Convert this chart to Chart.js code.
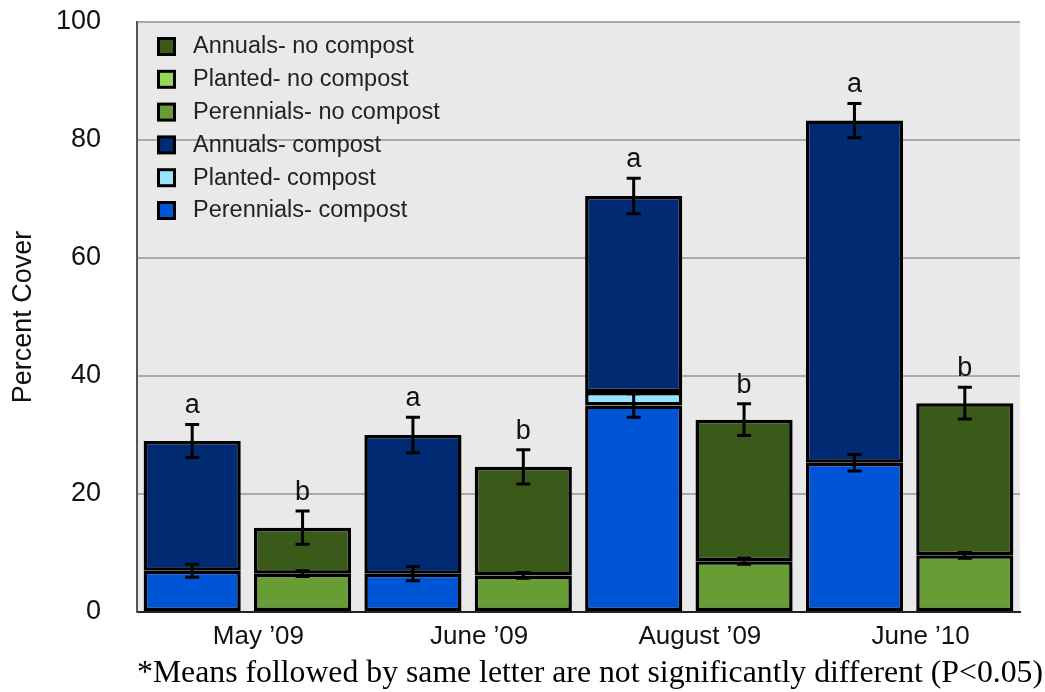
<!DOCTYPE html>
<html>
<head>
<meta charset="utf-8">
<script src="https://cdn.jsdelivr.net/npm/chart.js@4.4.0/dist/chart.umd.min.js"></script>
<style>
  html, body { margin: 0; padding: 0; background: #fff; }
  #wrap { width: 1045px; height: 692px; position: relative; }
</style>
</head>
<body>
<div id="wrap"><canvas id="coverChart" width="1045" height="692"></canvas></div>
<script>
// sampling dates (each has a compost bar and a no-compost bar)
const dates = ["May \u201909", "June \u201909", "August \u201909", "June \u201910"];

// compost plots, segment values (bottom to top)
const perennialsCompost = [7.0, 6.5, 35.0, 25.3];
const plantedCompost    = [null, null, 2.3, null];
const annualsCompost    = [22.0, 23.5, 33.2, 58.0];

// no compost plots, segment values (bottom to top)
const perennialsNoCompost = [6.5, 6.2, 8.6, 9.6];
const plantedNoCompost    = [null, null, null, null];
const annualsNoCompost    = [7.8, 18.4, 24.0, 25.8];

// standard errors: lower one sits on the perennials top, upper one on the bar top
const errPerCompost = [1.1, 1.2, 2.0, 1.4];
const errTopCompost = [2.8, 3.0, 3.0, 2.9];
const errPerNo      = [0.5, 0.5, 0.5, 0.5];
const errTopNo      = [2.8, 2.9, 2.7, 2.7];

// significance letters
const lettersCompost = ['a', 'a', 'a', 'a'];
const lettersNo      = ['b', 'b', 'b', 'b'];

const yTicks = [0, 20, 40, 60, 80, 100];
const footnote = '*Means followed by same letter are not significantly different (P<0.05)';

const sans = "'Liberation Sans', Arial, sans-serif";
const serif = "'Liberation Serif', 'Times New Roman', serif";

// legend order as in the original figure
const legendItems = [
    { text: 'Annuals- no compost',    color: '#3a5a1a' },
    { text: 'Planted- no compost',    color: '#98d65a' },
    { text: 'Perennials- no compost', color: '#679d34' },
    { text: 'Annuals- compost',       color: '#002b73' },
    { text: 'Planted- compost',       color: '#98e4ff' },
    { text: 'Perennials- compost',    color: '#0055d6' }
];

function bar(label, data, stack, color) {
    return {
        label: label,
        data: data,
        stack: stack,
        backgroundColor: color,
        borderColor: '#000',
        borderWidth: 3.5,
        borderSkipped: false,
        inflateAmount: 0
    };
}

// grey plot background
const plotBg = {
    id: 'plotBg',
    beforeDraw(chart) {
        const a = chart.chartArea, ctx = chart.ctx;
        ctx.save();
        ctx.fillStyle = '#e9e9e9';
        ctx.fillRect(a.left, a.top, a.right - a.left, a.bottom - a.top);
        ctx.restore();
    }
};

// error bars + letters
const errorBars = {
    id: 'errorBars',
    afterDatasetsDraw(chart) {
        const ctx = chart.ctx, y = chart.scales.y;
        function drawErr(x, v, e) {
            const y1 = y.getPixelForValue(v + e), y2 = y.getPixelForValue(v - e);
            ctx.beginPath();
            ctx.moveTo(x, y1); ctx.lineTo(x, y2);
            ctx.moveTo(x - 7, y1); ctx.lineTo(x + 7, y1);
            ctx.moveTo(x - 7, y2); ctx.lineTo(x + 7, y2);
            ctx.stroke();
        }
        ctx.save();
        ctx.strokeStyle = '#000';
        ctx.lineWidth = 3;
        ctx.fillStyle = '#111';
        ctx.font = '27px ' + sans;
        ctx.textAlign = 'center';
        ctx.textBaseline = 'alphabetic';
        const groups = [
            { per: perennialsCompost, pl: plantedCompost, an: annualsCompost, eP: errPerCompost, eT: errTopCompost, let: lettersCompost, ds: 0 },
            { per: perennialsNoCompost, pl: plantedNoCompost, an: annualsNoCompost, eP: errPerNo, eT: errTopNo, let: lettersNo, ds: 3 }
        ];
        groups.forEach(g => {
            const meta = chart.getDatasetMeta(g.ds);
            dates.forEach((d, i) => {
                const x = meta.data[i].x;
                const top = g.per[i] + (g.pl[i] || 0) + g.an[i];
                drawErr(x, g.per[i], g.eP[i]);
                drawErr(x, top, g.eT[i]);
                ctx.fillText(g.let[i], x, y.getPixelForValue(top + g.eT[i]) - 11);
            });
        });
        ctx.restore();
    }
};

// legend drawn inside the plot, top-left, plus footnote
const innerLegend = {
    id: 'innerLegend',
    afterDraw(chart) {
        const ctx = chart.ctx;
        ctx.save();
        ctx.font = '23.5px ' + sans;
        ctx.textBaseline = 'middle';
        legendItems.forEach((it, k) => {
            const cy = 46 + k * 32.8;
            ctx.fillStyle = '#000';
            ctx.fillRect(157, cy - 9, 19, 19);
            ctx.fillStyle = it.color;
            ctx.fillRect(160, cy - 6, 13, 13);
            ctx.fillStyle = '#222';
            ctx.fillText(it.text, 193, cy + 1);
        });
        // footnote, sized to run from x=137 to the right edge
        let size = 32;
        ctx.font = size + 'px ' + serif;
        const w = ctx.measureText(footnote).width;
        size = size * 906 / w;
        ctx.font = size.toFixed(2) + 'px ' + serif;
        ctx.fillStyle = '#000';
        ctx.textBaseline = 'alphabetic';
        ctx.fillText(footnote, 137, 682);
        ctx.restore();
    }
};

const ctx = document.getElementById('coverChart').getContext('2d');
const chartInstance = new Chart(ctx, {
    type: 'bar',
    data: {
        labels: dates,
        datasets: [
            bar('Perennials- compost', perennialsCompost, 'compost', '#0055d6'),
            bar('Planted- compost', plantedCompost, 'compost', '#98e4ff'),
            bar('Annuals- compost', annualsCompost, 'compost', '#002b73'),
            bar('Perennials- no compost', perennialsNoCompost, 'nocompost', '#679d34'),
            bar('Planted- no compost', plantedNoCompost, 'nocompost', '#98d65a'),
            bar('Annuals- no compost', annualsNoCompost, 'nocompost', '#3a5a1a')
        ]
    },
    options: {
        responsive: false,
        animation: false,
        devicePixelRatio: 1,
        categoryPercentage: 1.0,
        barPercentage: 0.88,
        layout: { padding: { top: 22, right: 25, left: 0, bottom: 0 } },
        plugins: {
            legend: { display: false },
            tooltip: { enabled: false }
        },
        scales: {
            x: {
                stacked: true,
                grid: { display: false },
                border: { display: true, color: '#222', width: 2 },
                ticks: { color: '#111', font: { size: 26, family: sans }, padding: 1, labelOffset: 11 },
                afterFit: s => { s.height = 80; s.paddingLeft = 0; s.paddingRight = 0; }
            },
            y: {
                stacked: true,
                min: 0,
                max: 100,
                afterBuildTicks: s => { s.ticks = yTicks.map(v => ({ value: v })); },
                grid: { color: '#a9a9a9', lineWidth: 2, drawTicks: false },
                border: { display: true, color: '#555', width: 2 },
                ticks: { color: '#111', font: { size: 27, family: sans }, padding: 36 },
                title: { display: true, text: 'Percent Cover', color: '#111', font: { size: 27, family: sans }, padding: { top: 7, bottom: 0 } },
                afterFit: s => { s.width = 137; s.paddingTop = 0; s.paddingBottom = 0; }
            }
        }
    },
    plugins: [plotBg, errorBars, innerLegend]
});
</script>
</body>
</html>
